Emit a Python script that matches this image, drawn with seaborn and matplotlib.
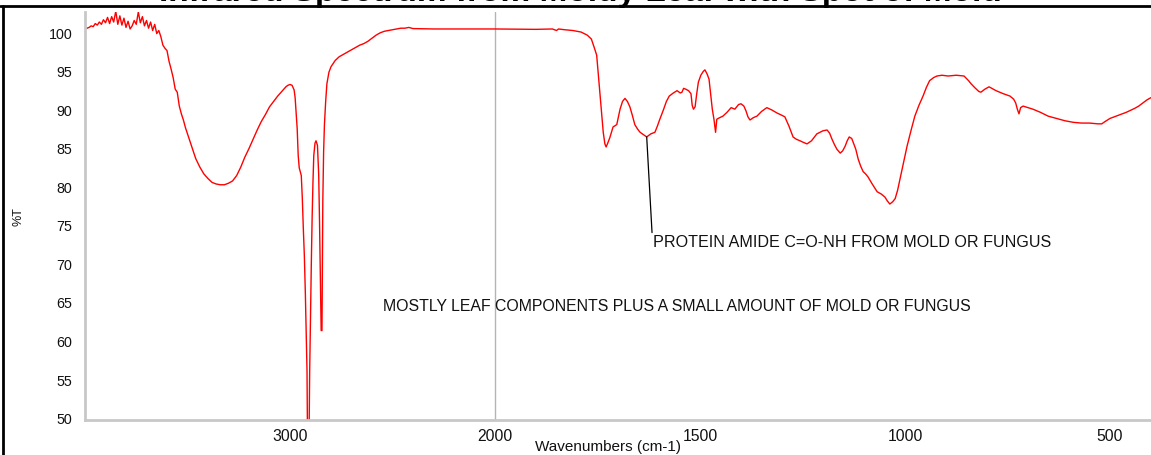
import numpy as np
import pandas as pd
import matplotlib
matplotlib.use("Agg")
import matplotlib.pyplot as plt
import seaborn as sns
from matplotlib.lines import Line2D
from matplotlib.ticker import FixedLocator, NullFormatter, FixedFormatter

# ---------------- data ----------------
title = "Infrared Spectrum from Moldy Leaf with Spot of Mold"
x_label = "Wavenumbers (cm-1)"
y_label = "%T"
note_main = "MOSTLY LEAF COMPONENTS PLUS A SMALL AMOUNT OF MOLD OR FUNGUS"
note_amide = "PROTEIN AMIDE C=O-NH FROM MOLD OR FUNGUS"

wavenumber = [
    4000, 3990, 3980, 3970, 3960, 3950, 3940, 3930, 3920, 3910, 3900, 3890, 3880,
    3870, 3860, 3850, 3840, 3830, 3820, 3810, 3800, 3790, 3780, 3770, 3760, 3750,
    3740, 3730, 3720, 3710, 3700, 3690, 3680, 3670, 3660, 3650, 3640,
    3630, 3620, 3610, 3600, 3590, 3580, 3570, 3560, 3550, 3540, 3530, 3520, 3510,
    3500, 3480, 3460, 3440, 3420, 3400, 3380, 3360, 3340, 3320, 3300, 3280, 3260,
    3240, 3220, 3200, 3180, 3160, 3140, 3120, 3100, 3080, 3060, 3040, 3020, 3010,
    3000, 2990, 2980, 2975, 2970, 2965, 2960, 2955, 2945, 2940, 2935, 2930, 2925,
    2920, 2917, 2914, 2908, 2904, 2900, 2896, 2892, 2888, 2884, 2878, 2873, 2866,
    2860, 2856, 2852, 2848, 2844, 2840, 2836, 2832, 2826, 2820, 2810, 2800, 2780,
    2760, 2740, 2720, 2700, 2680, 2660, 2640, 2620, 2600, 2580, 2560, 2540, 2520,
    2500, 2480, 2460, 2440, 2420, 2400, 2300, 2200, 2100, 2000, 1900, 1860, 1850,
    1845, 1830, 1810, 1790, 1775, 1765, 1758, 1752, 1748, 1744, 1740, 1736, 1732,
    1729, 1725, 1720, 1712, 1703, 1695, 1689, 1683, 1677, 1671, 1665, 1659, 1652,
    1646, 1638, 1630, 1620, 1610, 1604, 1598, 1590, 1582, 1575, 1565, 1556, 1548,
    1544, 1540, 1535, 1528, 1522, 1519, 1516, 1512, 1508, 1504, 1498, 1492, 1488,
    1483, 1478, 1474, 1470, 1466, 1462, 1459, 1452, 1444, 1434, 1424, 1415, 1406,
    1400, 1393, 1388, 1383, 1378, 1370, 1361, 1350, 1337, 1325, 1312, 1300, 1293,
    1283, 1273, 1265, 1256, 1248, 1239, 1228, 1215, 1200, 1190, 1184, 1178, 1172,
    1166, 1158, 1152, 1146, 1141, 1136, 1130, 1127, 1120, 1114, 1108, 1102, 1096,
    1090, 1080, 1068, 1058, 1049, 1043, 1037, 1030, 1024, 1018, 1012, 1004, 995,
    985, 976, 966, 956, 948, 940, 930, 922, 910, 895, 875, 856, 845, 839, 830,
    820, 815, 805, 795, 785, 778, 760, 744, 735, 730, 726, 722, 718, 712, 700,
    688, 670, 651, 630, 610, 590, 570, 550, 530, 520, 512, 500, 480, 460, 440,
    430, 420, 410, 400,
]

transmittance = [
    100.5, 100.5, 100.6, 100.8, 100.7, 101.1, 100.9, 101.3, 101.0, 101.6, 101.2, 101.9, 101.1,
    102.0, 101.3, 102.7, 101.0, 102.1, 100.9, 101.8, 100.6, 101.4, 100.4, 100.8, 101.5, 101.0,
    102.6, 101.2, 102.0, 100.8, 101.5, 100.5, 101.3, 100.2, 101.0, 99.8, 100.2,
    99.4, 98.3, 97.9, 97.6, 96.2, 95.2, 94.1, 92.6, 92.2, 90.4, 89.4, 88.6, 87.6,
    86.8, 85.2, 83.6, 82.5, 81.6, 81.0, 80.5, 80.3, 80.2, 80.2, 80.4, 80.7, 81.4,
    82.5, 83.8, 84.9, 86.1, 87.3, 88.4, 89.3, 90.3, 91.0, 91.7, 92.3, 92.9, 93.1,
    93.2, 93.1, 92.5, 91.5, 89.5, 87.5, 84.0, 82.4, 81.4, 78.5, 74.5, 71.0, 66.0,
    60.0, 56.0, 45.0, 45.0, 56.0, 63.0, 70.0, 76.0, 80.5, 84.0, 85.6, 85.9, 85.3,
    81.5, 75.5, 68.0, 61.3, 61.3, 78.0, 84.5, 88.0, 91.0, 93.3, 94.8, 95.5, 96.3,
    96.8, 97.1, 97.4, 97.7, 98.0, 98.3, 98.5, 98.8, 99.2, 99.6, 99.9, 100.1, 100.2,
    100.3, 100.4, 100.5, 100.5, 100.6, 100.45, 100.4, 100.4, 100.4, 100.4, 100.35, 100.4, 100.2,
    100.4, 100.3, 100.2, 100.0, 99.6, 99.1, 98.0, 97.0, 94.5, 92.0, 89.5, 87.0, 85.5,
    85.1, 85.6, 86.3, 87.7, 88.0, 90.0, 91.0, 91.4, 91.0, 90.3, 89.2, 88.0, 87.4,
    87.0, 86.7, 86.4, 86.8, 87.0, 87.8, 88.7, 89.8, 91.0, 91.7, 92.1, 92.4, 92.1,
    92.2, 92.7, 92.6, 92.4, 92.0, 90.5, 90.0, 90.3, 92.0, 93.5, 94.4, 94.9, 95.1,
    94.6, 93.9, 92.0, 90.0, 88.7, 87.0, 88.7, 88.9, 89.1, 89.6, 90.2, 90.0, 90.6,
    90.7, 90.4, 89.8, 89.0, 88.6, 88.9, 89.1, 89.7, 90.2, 89.9, 89.5, 89.2, 89.0,
    87.8, 86.4, 86.1, 85.9, 85.7, 85.5, 85.9, 86.8, 87.2, 87.3, 86.9, 86.1, 85.4,
    84.8, 84.3, 84.6, 85.2, 85.9, 86.4, 86.2, 85.8, 84.8, 83.5, 82.6, 81.9, 81.6,
    81.2, 80.3, 79.3, 79.0, 78.6, 78.1, 77.7, 78.0, 78.4, 79.5, 81.0, 83.0, 85.2,
    87.3, 89.1, 90.5, 91.7, 92.8, 93.7, 94.1, 94.3, 94.4, 94.3, 94.4, 94.3, 93.7, 93.3, 92.8,
    92.3, 92.2, 92.6, 92.9, 92.6, 92.4, 92.0, 91.7, 91.3, 90.8, 90.0, 89.4, 90.2, 90.4, 90.2,
    90.0, 89.6, 89.1, 88.8, 88.5, 88.3, 88.2, 88.2, 88.1, 88.1, 88.4, 88.8, 89.2, 89.6, 90.1,
    90.4, 90.8, 91.2, 91.5,
]

major_ticks = [3000, 2000, 1500, 1000, 500]
minor_ticks_x = [3800, 3600, 3400, 3200, 2800, 2600, 2400, 2200,
                 1900, 1800, 1700, 1600, 1400, 1300, 1200, 1100,
                 900, 800, 700, 600, 400]
y_major = [50, 55, 60, 65, 70, 75, 80, 85, 90, 95, 100]

df = pd.DataFrame({"wavenumber": wavenumber, "T": transmittance})

# ---------------- figure ----------------
sns.set_theme(style="white")
plt.rcParams["font.family"] = ["Liberation Sans", "DejaVu Sans"]

W, H = 1151, 456
fig = plt.figure(figsize=(W / 100, H / 100), dpi=100)
ax = fig.add_axes([85 / W, 1 - 421 / H, (W - 85) / W, (421 - 13) / H])


def fwd(w):
    w = np.asarray(w, dtype=float)
    return np.where(w >= 2000, w, 2 * w - 2000)


def inv(p):
    p = np.asarray(p, dtype=float)
    return np.where(p >= 2000, p, (p + 2000) / 2)


ax.set_xscale("function", functions=(fwd, inv))
sns.lineplot(data=df, x="wavenumber", y="T", ax=ax, color="#ff0000",
             linewidth=1.0, estimator=None, sort=False)
ax.set_xlim(4000, 400)
ax.set_ylim(49.7, 102.6)

ax.axvline(2000, color="#b4b4b4", linewidth=1.0, zorder=0)

ax.xaxis.set_major_locator(FixedLocator(major_ticks))
ax.xaxis.set_major_formatter(FixedFormatter([str(t) for t in major_ticks]))
ax.xaxis.set_minor_locator(FixedLocator(minor_ticks_x))
ax.xaxis.set_minor_formatter(NullFormatter())
ax.yaxis.set_major_locator(FixedLocator(y_major))
ax.yaxis.set_major_formatter(FixedFormatter([str(t) for t in y_major]))
ax.yaxis.set_minor_locator(FixedLocator(list(range(50, 103))))
ax.yaxis.set_minor_formatter(NullFormatter())

for s in ["top", "right"]:
    ax.spines[s].set_visible(False)
for s in ["left", "bottom"]:
    ax.spines[s].set_color("#c8c8c8")
    ax.spines[s].set_linewidth(2.0)

ax.tick_params(axis="both", which="major", direction="out", length=4, width=1,
               color="#505050", labelcolor="#111111")
ax.tick_params(axis="both", which="minor", direction="out", length=3, width=1,
               color="#505050")
ax.tick_params(axis="x", which="major", labelsize=11.3, pad=2)
ax.tick_params(axis="y", which="major", labelsize=10.3, pad=5)

ax.set_xlabel(x_label, fontsize=11, color="#111111")
ax.xaxis.set_label_coords((608 - 85) / (W - 85), -0.047)
ax.set_ylabel(y_label, fontsize=9, color="#111111")
ax.yaxis.set_label_coords(-(85 - 25) / (W - 85), 0.5)

ax.text(2546, 64.5, note_main, fontsize=11.4, va="center", ha="left", color="#111111")
ax.annotate("", xy=(1630, 86.4), xytext=(1617, 74.0),
            arrowprops=dict(arrowstyle="-", color="black", lw=0.9,
                            shrinkA=0, shrinkB=0))
ax.text(1614, 72.9, note_amide, fontsize=11.6, va="center", ha="left", color="#111111")

# outer frame and cut-off title
fig.add_artist(Line2D([0, 1], [1 - 7 / H, 1 - 7 / H], transform=fig.transFigure,
                      color="black", linewidth=2.0))
fig.add_artist(Line2D([3 / W, 3 / W], [0, 1 - 7 / H], transform=fig.transFigure,
                      color="black", linewidth=2.0))
fig.text(580 / W, 1 - 1 / H, title, ha="center", va="baseline",
         fontsize=24, fontweight="bold", color="black")

fig.savefig("out.png", dpi=100)
